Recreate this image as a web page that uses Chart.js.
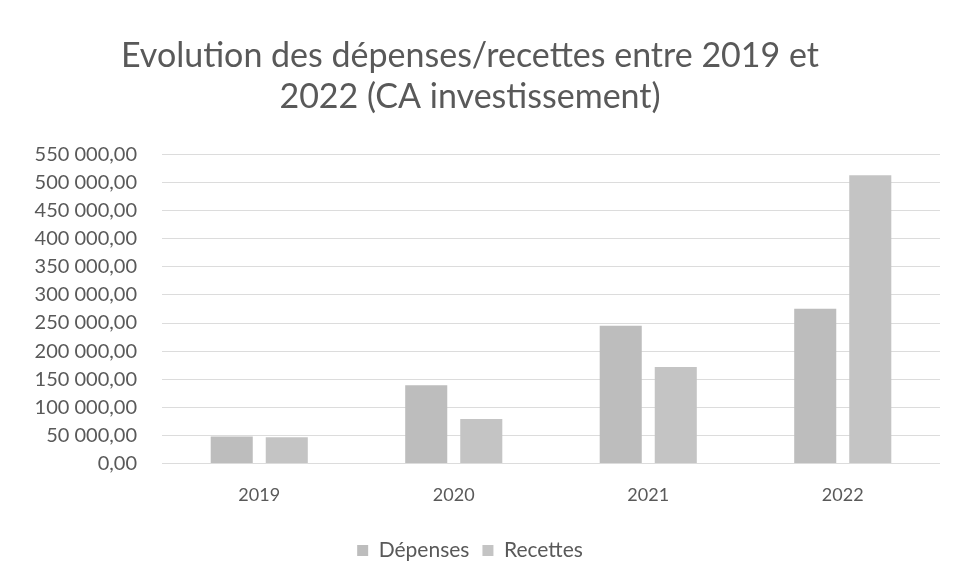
<!DOCTYPE html>
<html>
<head>
<meta charset="utf-8">
<script src="https://cdn.jsdelivr.net/npm/chart.js@4"></script>
<style>
  html, body { margin: 0; padding: 0; background: #fff; }
  #wrap { width: 956px; height: 583px; }
</style>
</head>
<body>
<div id="wrap"><canvas id="myChart"></canvas></div>
<script>
const years = ['2019', '2020', '2021', '2022'];
const depenses = [48000, 139000, 245000, 275500];
const recettes = [46500, 79000, 171500, 513000];
const titleLines = ['Evolution des dépenses/recettes entre 2019 et', '2022 (CA investissement)'];

// "550 000,00" style labels
const fmt = v => {
  const parts = v.toFixed(2).split('.');
  return parts[0].replace(/\B(?=(\d{3})+(?!\d))/g, ' ') + ',' + parts[1];
};

const textColor = '#595959';
const font = 'Lato';

const data = {
  labels: years,
  datasets: [
    { label: 'Dépenses', data: depenses, backgroundColor: '#bdbdbd' },
    { label: 'Recettes', data: recettes, backgroundColor: '#c4c4c4' }
  ]
};

const config = {
  type: 'bar',
  data: data,
  options: {
    responsive: true,
    maintainAspectRatio: false,
    animation: false,
    categoryPercentage: 0.566,
    barPercentage: 0.764,
    layout: { padding: { left: 0, right: 16, top: 36, bottom: 12 } },
    plugins: {
      title: {
        display: true,
        text: titleLines,
        color: textColor,
        font: { family: font, size: 34, weight: 'normal', lineHeight: 1.2 },
        padding: { top: 0, bottom: 37 }
      },
      legend: {
        position: 'bottom',
        labels: {
          color: textColor,
          font: { family: font, size: 21 },
          boxWidth: 11,
          boxHeight: 11,
          padding: 13
        }
      },
      tooltip: { enabled: false }
    },
    scales: {
      x: {
        grid: { display: false, drawTicks: false },
        border: { display: false },
        ticks: { color: textColor, font: { family: font, size: 18 }, padding: 21 }
      },
      y: {
        min: 0,
        max: 550000,
        afterFit: scale => { scale.width = 162; },
        grid: { color: '#dcdcdc', drawTicks: false },
        border: { display: false },
        ticks: {
          stepSize: 50000,
          color: textColor,
          font: { family: font, size: 20 },
          padding: 25,
          callback: v => fmt(v)
        }
      }
    }
  }
};

const myChart = new Chart(document.getElementById('myChart'), config);
</script>
</body>
</html>
